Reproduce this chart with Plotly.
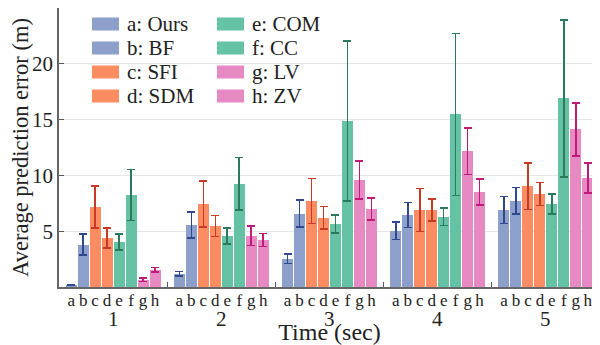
import plotly.graph_objects as go

# ---- data ----
groups = [1, 2, 3, 4, 5]
letters = ['a', 'b', 'c', 'd', 'e', 'f', 'g', 'h']
methods = ['Ours', 'BF', 'SFI', 'SDM', 'COM', 'CC', 'LV', 'ZV']

ours_mean = [0.18, 1.19, 2.53, 5.03, 6.90]
ours_err = [0.03, 0.19, 0.43, 0.78, 1.22]
bf_mean = [3.80, 5.56, 6.57, 6.46, 7.71]
bf_err = [0.93, 1.16, 1.22, 1.13, 1.19]
sfi_mean = [7.17, 7.44, 7.71, 6.90, 9.04]
sfi_err = [1.87, 2.04, 2.02, 1.93, 2.08]
sdm_mean = [4.40, 5.47, 6.19, 6.90, 8.33]
sdm_err = [0.90, 0.94, 1.01, 0.96, 1.02]
com_mean = [4.04, 4.58, 5.65, 6.28, 7.44]
com_err = [0.72, 0.71, 0.80, 0.78, 0.90]
cc_mean = [8.24, 9.25, 14.85, 15.47, 16.90]
cc_err = [2.29, 2.34, 7.17, 7.26, 7.05]
lv_mean = [0.65, 4.58, 9.58, 12.17, 14.13]
lv_err = [0.17, 0.86, 1.70, 2.08, 2.38]
zv_mean = [1.54, 4.22, 6.99, 8.51, 9.76]
zv_err = [0.20, 0.58, 1.00, 1.15, 1.33]

y_ticks = [5, 10, 15, 20, 25]
y_ticktext = ['5', '10', '15', '20', '']

# ---- styles ----
means = [ours_mean, bf_mean, sfi_mean, sdm_mean, com_mean, cc_mean, lv_mean, zv_mean]
errs = [ours_err, bf_err, sfi_err, sdm_err, com_err, cc_err, lv_err, zv_err]
bar_colors = ['#8da0cb', '#8da0cb', '#fc8d62', '#fc8d62',
              '#66c2a5', '#66c2a5', '#e78ac3', '#e78ac3']
err_colors = ['#30498c', '#30498c', '#c63a26', '#c63a26',
              '#2b7a5c', '#2b7a5c', '#c01a7a', '#c01a7a']

FONT = 'Liberation Serif'
TXT = '#222'
OFF = 8  # page body margin
W, H = 600 - OFF, 345 - OFF
ML, MR, MT, MB = 51, 0, 0, 58
pitch = 0.1107
bw = 0.1015

fig = go.Figure()
tickvals, ticktext = [], []
for j, (let, name) in enumerate(zip(letters, methods)):
    xs = [g + (j - 3.5) * pitch for g in groups]
    tickvals += xs
    ticktext += [let] * len(xs)
    fig.add_trace(go.Bar(
        x=xs, y=means[j], width=bw, name=f'{let}: {name}',
        marker=dict(color=bar_colors[j], line=dict(width=0)),
        error_y=dict(type='data', array=errs[j], color=err_colors[j],
                     thickness=1.6, width=4),
        showlegend=False,
    ))

# manual legend (wide swatches as in original); positions in screen pixels
pw = W - ML - MR
ph = H - MT - MB
def px_x(p):
    return (p - OFF - ML) / pw
def px_y(p):
    return 1 - (p - OFF - MT) / ph

col_x = [92, 217]
row_y = [24, 48, 72, 96]
for j, (let, name) in enumerate(zip(letters, methods)):
    c, r = j // 4, j % 4
    x0 = col_x[c]
    yc = row_y[r]
    fig.add_shape(type='rect', xref='paper', yref='paper',
                  x0=px_x(x0), x1=px_x(x0 + 27),
                  y0=px_y(yc + 6.5), y1=px_y(yc - 6.5),
                  fillcolor=bar_colors[j], line=dict(width=0), layer='above')
    fig.add_annotation(xref='paper', yref='paper', x=px_x(x0 + 33), y=px_y(yc),
                       text=f'{let}: {name}', showarrow=False,
                       xanchor='left', yanchor='middle',
                       font=dict(family=FONT, size=21, color=TXT))

for g in groups:
    fig.add_annotation(xref='x', yref='paper', x=g, y=0, yshift=-18,
                       text=str(g), showarrow=False, xanchor='center', yanchor='top',
                       font=dict(family=FONT, size=21, color=TXT))

fig.update_layout(
    width=W, height=H,
    margin=dict(l=ML, r=MR, t=MT, b=MB, pad=0),
    paper_bgcolor='white', plot_bgcolor='white',
    barmode='overlay', bargap=0,
    font=dict(family=FONT, size=19, color=TXT),
    xaxis=dict(range=[0.5, 5.5], tickvals=tickvals, ticktext=ticktext,
               ticks='', showgrid=False, zeroline=False,
               showline=True, linecolor='#666', linewidth=1.5,
               ticklabelstandoff=-3,
               tickfont=dict(family=FONT, size=17, color=TXT),
               minor=dict(tickvals=[1.5, 2.5, 3.5, 4.5], ticks='inside',
                          ticklen=5, tickcolor='#555', tickwidth=1.2),
               title=dict(text='Time (sec)', standoff=17,
                          font=dict(family=FONT, size=24, color=TXT))),
    yaxis=dict(range=[0, 25], tickvals=y_ticks, ticktext=y_ticktext,
               ticks='inside', ticklen=5, tickcolor='#555', tickwidth=1.2,
               showgrid=True, gridcolor='#e6e6e6', gridwidth=1,
               zeroline=False, showline=True, linecolor='#666', linewidth=1.5,
               tickfont=dict(family=FONT, size=21, color=TXT),
               title=dict(text='Average prediction error (m)', standoff=5,
                          font=dict(family=FONT, size=22.5, color=TXT))),
)

fig.write_html('out.html')
